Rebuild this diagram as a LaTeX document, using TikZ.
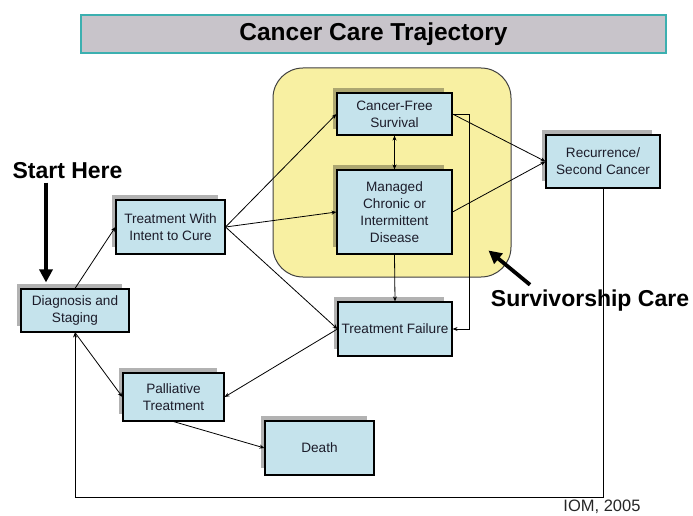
\documentclass[tikz,border=0pt]{standalone}
\usepackage{fontspec}
\setmainfont{Liberation Sans}
\usetikzlibrary{arrows.meta,shadows}

\definecolor{boxblue}{HTML}{C5E3EC}
\definecolor{careyellow}{HTML}{F8F0A2}
\definecolor{titlegray}{HTML}{C8C4CA}
\definecolor{titleteal}{HTML}{3CB0B0}
\definecolor{textdark}{HTML}{1C1C2A}

\tikzset{
  stagebox/.style={draw=black, line width=1.1pt, fill=boxblue, align=center,
    text=textdark, inner sep=1pt,
    font=\fontsize{13.6}{16.8}\selectfont,
    drop shadow={shadow xshift=-6pt, shadow yshift=6pt, shadow scale=0.97, fill=black, opacity=0.3}},
  link/.style={line width=0.8pt, -{Stealth[length=5pt,width=4pt]}},
  bothlink/.style={line width=0.8pt, {Stealth[length=5pt,width=4pt]}-{Stealth[length=5pt,width=4pt]}},
  bigarrow/.style={line width=3.8pt, -{Triangle[length=13pt,width=13pt]}},
  bigtext/.style={font=\fontsize{23}{26}\selectfont\bfseries}
}

\begin{document}
\begin{tikzpicture}[x=1pt, y=-1pt]

  \useasboundingbox (0,0) rectangle (693,516);

  % ***************** TITLE *****************
  \node[draw=titleteal, line width=1.5pt, fill=titlegray, minimum width=585pt, minimum height=38pt,
        font=\fontsize{24.5}{27}\selectfont\bfseries] (title) at (373.5,34) {Cancer Care Trajectory};

  % ***************** SURVIVORSHIP AREA *****************
  \node[draw=black!75, line width=1pt, fill=careyellow, rounded corners=30pt,
        minimum width=238pt, minimum height=209pt] (survarea) at (392,172.5) {};

  % ***************** STAGES *****************
  \node[stagebox, minimum width=108pt, minimum height=43pt] (diag) at (75,310.5) {Diagnosis and\\Staging};
  \node[stagebox, minimum width=109pt, minimum height=54pt] (cure) at (170.5,227) {Treatment With\\Intent to Cure};
  \node[stagebox, minimum width=115pt, minimum height=42pt] (free) at (394.5,114) {Cancer-Free\\Survival};
  \node[stagebox, minimum width=115pt, minimum height=84pt] (chronic) at (394.5,212) {Managed\\Chronic or\\Intermittent\\Disease};
  \node[stagebox, minimum width=114pt, minimum height=54pt] (failure) at (395,329) {Treatment Failure};
  \node[stagebox, minimum width=114pt, minimum height=53pt] (recur) at (603,161.5) {Recurrence/\\Second Cancer};
  \node[stagebox, minimum width=101pt, minimum height=48pt] (palliative) at (173.5,397) {Palliative\\Treatment};
  \node[stagebox, minimum width=109pt, minimum height=54pt] (death) at (319.5,448) {Death};

  % ***************** LABELS *****************
  \node[bigtext] (start) at (67.5,171) {Start Here};
  \node[bigtext] (survlabel) at (590,301) {Survivorship Care};
  \node[font=\fontsize{16.5}{18}\selectfont, text=black!85] (source) at (602,507) {IOM, 2005};

  \coordinate (rightrail) at (469,0);
  \coordinate (bottomrail) at (0,497);

  % ***************** LINKS *****************
  \draw[link] (diag.north) -- (cure.west);
  \draw[link] (cure.east) -- (free.west);
  \draw[link] (cure.east) -- (chronic.west);
  \draw[link] (cure.east) -- (failure.west);
  \draw[bothlink] (free.south) -- (chronic.north);
  \draw[link] (free.east) -- (recur.west);
  \draw[link] (chronic.east) -- (recur.west);
  \draw[link] (chronic.south) -- (failure.north);
  \draw[link] (free.east) -- (free.east -| rightrail) -- (failure.east -| rightrail) -- (failure.east);
  \draw[link] (failure.west) -- (palliative.east);
  \draw[link] (diag.south) -- (palliative.west);
  \draw[link] (palliative.south) -- (death.west);
  \draw[link] (recur.south) -- (recur.south |- bottomrail) -- (diag.south |- bottomrail) -- (diag.south);

  % ***************** BIG ARROWS *****************
  \draw[bigarrow] ([xshift=-21.5pt]start.south) -- ([xshift=-29pt, yshift=6pt]diag.north);
  \draw[bigarrow] ([xshift=-60pt, yshift=2pt]survlabel.north) -- ([xshift=-23pt, yshift=27pt]survarea.south east);

\end{tikzpicture}
\end{document}
